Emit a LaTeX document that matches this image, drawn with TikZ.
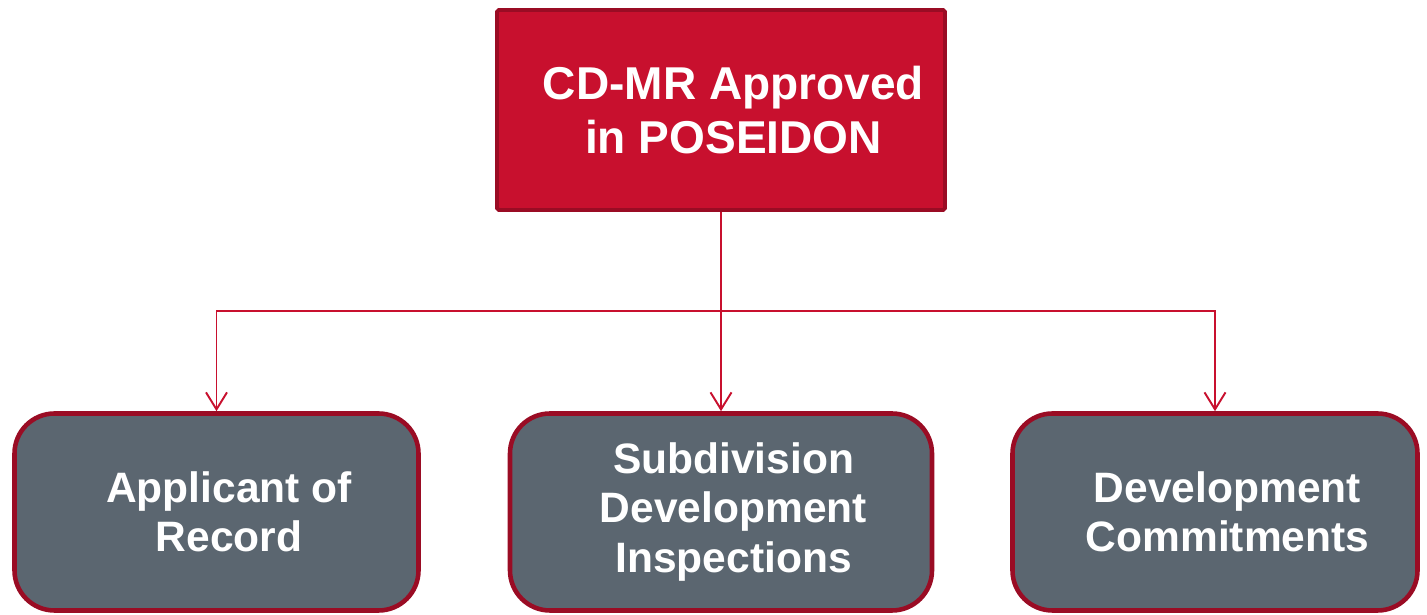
\documentclass[tikz,border=0pt]{standalone}
\usepackage{fontspec}
\setmainfont{Liberation Sans}
\usepackage{tikz}
\usetikzlibrary{arrows.meta}
\definecolor{crimson}{HTML}{C8102E}
\definecolor{darkcrimson}{HTML}{9A0C24}
\definecolor{slate}{HTML}{5B6670}
\tikzstyle{arrow} = [-{Straight Barb[length=0.34cm,width=0.42cm]},draw=crimson,line width=1.1pt]
\tikzstyle{link} = [draw=crimson,line width=1.1pt]
\tikzstyle{topbox} = [draw=darkcrimson,fill=crimson,line width=2.2pt,rectangle,rounded corners=1pt,minimum width=8.96cm,minimum height=4.0cm,text=white,font=\bfseries\fontsize{26.2}{31}\selectfont,align=center]
\tikzstyle{leafbox} = [draw=darkcrimson,fill=slate,line width=2.6pt,rectangle,rounded corners=0.8cm,minimum height=3.94cm,text=white,font=\bfseries\fontsize{24.2}{28}\selectfont,align=center]
\newcommand{\shl}[1]{\hspace*{5mm}#1}

\begin{document}
\begin{tikzpicture}
          \useasboundingbox (0,0) rectangle (28.54,12.3);
          \node[topbox] at (14.42,10.1) (cdmr) {\shl{CD-MR Approved}\\\shl{in POSEIDON}};
          \node[leafbox, minimum width=8.08cm] at (4.33,2.06) (app) {\shl{Applicant of}\\\shl{Record}};
          \node[leafbox, minimum width=8.44cm] at (14.42,2.06) (sub) {\shl{Subdivision}\\\shl{Development}\\\shl{Inspections}};
          \node[leafbox, minimum width=8.1cm] at (24.3,2.06) (dev) {\shl{Development}\\\shl{Commitments}};

          \draw[link] (cdmr.south) -- (cdmr.south |- 0,6.08) coordinate (split);
          \draw[arrow] (split) -| (app.north);
          \draw[arrow] (split) -- (sub.north);
          \draw[arrow] (split) -| (dev.north);
\end{tikzpicture}
\end{document}
